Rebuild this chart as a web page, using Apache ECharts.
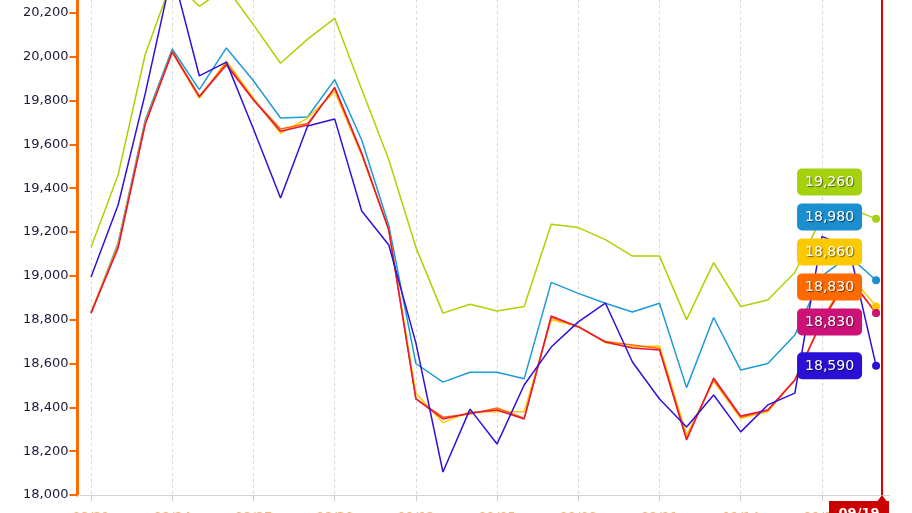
<!DOCTYPE html>
<html><head><meta charset="utf-8">
<script src="https://cdn.jsdelivr.net/npm/echarts@6/dist/echarts.min.js"></script>
<style>html,body{margin:0;padding:0;background:#fff}#c{width:912px;height:513px}</style>
</head><body><div id="c"></div>
<script>
// ---- data ----
const categories = ['08/21','08/22','08/23','08/24','08/25','08/26','08/27','08/28','08/29','08/30',
  '08/31','09/01','09/02','09/03','09/04','09/05','09/06','09/07','09/08','09/09',
  '09/10','09/11','09/12','09/13','09/14','09/15','09/16','09/17','09/18','09/19'];
const lime    = [19130,19460,20010,20350,20230,20315,20145,19970,20080,20175,19850,19530,19130,18830,18870,18840,18860,19235,19220,19165,19090,19090,18800,19060,18860,18890,19015,19270,19310,19260];
const blue    = [18830,19150,19710,20035,19850,20040,19890,19720,19725,19895,19620,19230,18600,18515,18560,18560,18530,18970,18920,18875,18835,18875,18490,18810,18570,18600,18730,19000,19090,18980];
const yellow  = [18835,19140,19700,20020,19810,19980,19810,19650,19720,19840,19550,19210,18465,18330,18380,18380,18380,18800,18770,18695,18675,18680,18275,18520,18350,18380,18525,18800,19010,18860];
const orange  = [18830,19135,19695,20025,19820,19970,19805,19670,19695,19855,19555,19210,18440,18355,18370,18397,18350,18810,18768,18700,18684,18668,18260,18525,18355,18385,18525,18795,18990,18830];
const magenta = [18830,19127,19690,20021,19817,19962,19802,19660,19688,19860,19560,19209,18438,18347,18374,18388,18347,18817,18767,18698,18671,18662,18251,18534,18360,18388,18525,18795,18995,18830];
const purple  = [18995,19323,19830,20390,19912,19975,19670,19355,19684,19716,19296,19141,18694,18105,18392,18233,18502,18675,18790,18876,18607,18438,18310,18456,18288,18411,18465,19180,19127,18590];
const yMin = 18000, yMax = 20400, yStep = 200;
const cursorPos = 29.72;       // cursor position in category units
const cursorLabel = '09/19';

// ---- chart ----
const fmt = v => Number(v).toLocaleString('en-US');
const last = categories.length - 1;
const defs = [
  {name:'A', data: lime,    line:'#aad400', box:'#a5d20e'},
  {name:'B', data: blue,    line:'#1e9ad6', box:'#1a8ecf'},
  {name:'C', data: yellow,  line:'#ffcc00', box:'#fcc800'},
  {name:'D', data: orange,  line:'#ff6a00', box:'#ff6a00'},
  {name:'E', data: magenta, line:'#e8173f', box:'#cc1177'},
  {name:'F', data: purple,  line:'#3010dc', box:'#2a0fd4'}
];
const LABEL_SPACING = 35; // label box height + gap

function buildSeries(shifts) {
  const s = defs.map((d, si) => ({
    name: d.name, type: 'line',
    data: d.data.map((v, i) => i === last ? {value: v, label: {show: true}} : v),
    showSymbol: true, symbol: 'circle',
    symbolSize: (v, p) => p.dataIndex === last ? 8 : 0,
    lineStyle: {color: d.line, width: 1.5},
    itemStyle: {color: d.box},
    emphasis: {disabled: true},
    clip: true,
    label: {
      show: false, position: 'left', distance: 10,
      formatter: p => '{v|' + fmt(p.value) + '}',
      rich: {v: {color: '#fff', backgroundColor: d.box, borderRadius: 5, padding: [7, 8, 6, 8],
        fontSize: 14, lineHeight: 16, fontFamily: 'DejaVu Sans',
        textShadowColor: 'rgba(0,0,0,0.55)', textShadowBlur: 1, textShadowOffsetX: 1, textShadowOffsetY: 1}}
    },
    labelLayout: () => ({dy: shifts ? shifts[si] : 0})
  }));
  s.push({
    type: 'line', xAxisIndex: 1, data: [], silent: true, clip: false,
    markLine: {symbol: 'none', silent: true, animation: false,
      lineStyle: {color: '#dd0000', width: 2, type: 'solid'}, label: {show: false},
      data: [{xAxis: cursorPos}]},
    markPoint: {silent: true, animation: false, data: [
      {coord: [cursorPos, yMin], symbol: 'triangle', symbolSize: [12, 8], symbolOffset: [0, 4],
        itemStyle: {color: '#cc0000'}, label: {show: false}},
      {coord: [cursorPos, yMin], symbol: 'rect', symbolSize: [60, 26], symbolOffset: [-23, 19],
        itemStyle: {color: '#cc0000'},
        label: {show: true, position: 'inside', formatter: cursorLabel, color: '#fff',
          fontSize: 13, fontWeight: 'bold', fontFamily: 'DejaVu Sans'}}
    ]}
  });
  return s;
}

// stack end labels upward from the bottom so they do not overlap,
// then let each pushed cluster settle halfway into the free room below it
function layoutLabels(ys, spacing) {
  const order = ys.map((y, i) => i).sort((a, b) => (ys[b] - ys[a]) || (b - a));
  const pos = [];
  let prev = Infinity;
  order.forEach(i => { pos[i] = Math.min(ys[i], prev - spacing); prev = pos[i]; });
  let k = 0;
  while (k < order.length) {
    let j = k;
    while (j + 1 < order.length && Math.abs(pos[order[j]] - pos[order[j + 1]] - spacing) < 0.01) j++;
    let disp = 0;
    for (let m = k; m <= j; m++) disp += ys[order[m]] - pos[order[m]];
    if (disp > 0) {
      const limit = k > 0 ? pos[order[k - 1]] - spacing : Infinity;
      const room = limit - pos[order[k]];
      const shift = Math.min(room / 2, disp / (j - k + 1));
      for (let m = k; m <= j; m++) pos[order[m]] += shift;
    }
    k = j + 1;
  }
  return pos;
}

const chart = echarts.init(document.getElementById('c'), null, {renderer: 'canvas'});
const baseOption = {
  animation: false,
  backgroundColor: '#fff',
  grid: {left: 77.5, right: 22.4, top: -31, bottom: 18, containLabel: false, outerBoundsMode: 'none'},
  xAxis: [{
    type: 'category', data: categories, boundaryGap: true,
    axisLine: {show: true, lineStyle: {color: '#d4d4d4', width: 1}},
    axisTick: {show: true, interval: 2, alignWithLabel: true, length: 6, lineStyle: {color: '#cccccc'}},
    axisLabel: {interval: 2, color: '#f5b878', fontSize: 13, fontFamily: 'DejaVu Sans', margin: 16},
    splitLine: {show: true, interval: 2, alignWithLabel: true, lineStyle: {color: '#d8d8d8', type: [3, 3], width: 1}}
  }, {
    type: 'value', min: 0, max: categories.length, show: false, position: 'bottom'
  }],
  yAxis: {
    type: 'value', min: yMin, max: yMax, interval: yStep, offset: 1,
    axisLine: {show: true, lineStyle: {color: '#ff6a00', width: 3}},
    axisTick: {show: true, length: 8, lineStyle: {color: '#ff6a00', width: 2}},
    axisLabel: {color: '#1a1a3c', fontSize: 13, fontFamily: 'DejaVu Sans', margin: 8, formatter: v => fmt(v)},
    splitLine: {show: false}
  },
  tooltip: {show: false},
  series: buildSeries(null)
};
chart.setOption(baseOption);
const natural = defs.map(d => chart.convertToPixel({gridIndex: 0}, [last, d.data[last]])[1]);
const placed = layoutLabels(natural, LABEL_SPACING);
const shifts = placed.map((p, i) => p - natural[i]);
chart.setOption({series: buildSeries(shifts)});
</script></body></html>
